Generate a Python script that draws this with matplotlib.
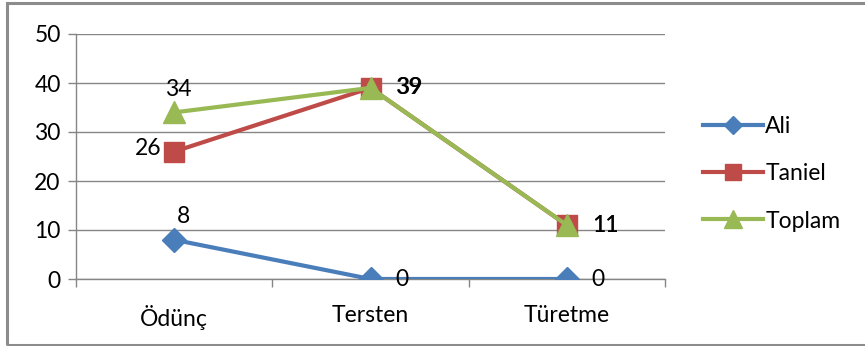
import matplotlib.pyplot as plt
from matplotlib.patches import Rectangle

categories = ["Ödünç", "Tersten", "Türetme"]
ali = [8, 0, 0]
taniel = [26, 39, 11]
toplam = [34, 39, 11]

plt.rcParams['font.family'] = ['Lato', 'DejaVu Sans']

fig = plt.figure(figsize=(8.65, 3.46), dpi=100)
ax = fig.add_axes([76 / 865, 1 - 279 / 346, (665 - 76) / 865, (279 - 34) / 346])

# outer frame of the chart
fig.patches.append(Rectangle((7 / 865, 1 / 346), 1.0, 342 / 346, transform=fig.transFigure,
                             fill=False, edgecolor="#8c8c8c", linewidth=2.2))

x = list(range(len(categories)))
ax.plot(x, ali, color="#4A7EBB", lw=3, marker="D", ms=12, label="Ali", zorder=3)
ax.plot(x, taniel, color="#BE4B48", lw=3, marker="s", ms=15, label="Taniel", zorder=4)
ax.plot(x, toplam, color="#98B954", lw=3, marker="^", ms=16, label="Toplam", zorder=5)

fs = 16.5
# value labels
ax.annotate(str(ali[0]), (0, ali[0]), xytext=(2, 9), textcoords="offset points",
            ha="left", va="bottom", fontsize=fs)
for i in (1, 2):
    ax.annotate(str(ali[i]), (i, ali[i]), xytext=(18, 0), textcoords="offset points",
                ha="left", va="center", fontsize=fs)
ax.annotate(str(taniel[0]), (0, taniel[0]), xytext=(-9, 2), textcoords="offset points",
            ha="right", va="center", fontsize=fs)
for i in (1, 2):
    ax.annotate(str(taniel[i]), (i, taniel[i]), xytext=(18, 0), textcoords="offset points",
                ha="left", va="center", fontsize=fs)
    ax.annotate(str(toplam[i]), (i, toplam[i]), xytext=(18.4, 0), textcoords="offset points",
                ha="left", va="center", fontsize=fs)
ax.annotate(str(toplam[0]), (0, toplam[0]), xytext=(3, 9), textcoords="offset points",
            ha="center", va="bottom", fontsize=fs)

ax.set_xlim(-0.5, 2.5)
ax.set_ylim(0, 50)
ax.set_yticks(range(0, 51, 10))
ax.set_xticks(x)
ax.set_xticklabels(categories)
ax.set_xticks([-0.5, 0.5, 1.5, 2.5], minor=True)
ax.tick_params(axis="x", which="major", length=0, pad=19, labelsize=fs)
ax.tick_params(axis="x", which="minor", length=6, color="#868686", width=1)
ax.tick_params(axis="y", length=6, color="#868686", width=1, labelsize=fs, pad=5)
ax.grid(axis="y", color="#868686", lw=1)
ax.set_axisbelow(True)
for s in ("top", "right"):
    ax.spines[s].set_visible(False)
for s in ("left", "bottom"):
    ax.spines[s].set_color("#868686")
    ax.spines[s].set_linewidth(1)

ax.legend(loc="center left", bbox_to_anchor=(1.03, 0.43), frameon=False, fontsize=fs,
          handlelength=2.6, labelspacing=1.15, handletextpad=0.1, markerscale=0.8)

fig.savefig("out.png", dpi=100)
